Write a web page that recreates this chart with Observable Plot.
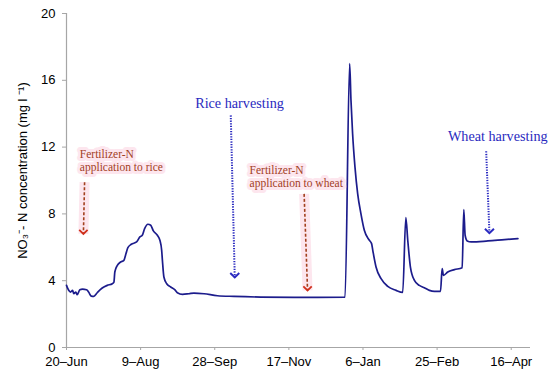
<!DOCTYPE html>
<html>
<head>
<meta charset="utf-8">
<script src="https://cdn.jsdelivr.net/npm/d3@7"></script>
<script src="https://cdn.jsdelivr.net/npm/@observablehq/plot@0.6"></script>
<style>
  html, body { margin: 0; padding: 0; background: #fff; }
</style>
</head>
<body>
<div id="chart"></div>
<script>
// ---- Data ----
const startDate = "2009-06-20";           // first day of the record (20–Jun)
const endDay = 313;                       // x-axis extends to ~29–Apr
// days since 20–Jun
const days = [0, 0.9, 2.7, 4.1, 4.9, 6.3, 7.2, 9.0, 10.8, 13.5, 14.9, 16.7, 18.4, 20.7, 24.1, 27.5, 30.9, 32.0,
  32.6, 34.3, 36.5, 38.7, 40.1, 41.4, 43.7, 47.3, 49.5, 51.1, 52.7, 54.9, 56.8, 58.6, 61.3, 63.0, 64.2, 64.7,
  65.7, 67.6, 70.3, 73.0, 74.8, 78.2, 82.6, 86.0, 92.8, 101.8, 113.0, 131.1, 162.6, 187.9,
  191.0, 191.9, 193.0, 194.6, 196.4, 198.6, 200.9, 204.3, 205.8, 206.6, 208.8, 212.2, 216.7, 222.3, 226.8,
  228.9, 230.2, 232.0, 234.7, 238.0, 241.4, 244.8, 248.2, 252.3,
  253.4, 254.3, 257.2, 261.7, 266.9,
  268.0, 268.9, 270.3, 273.0, 284.3, 295.5, 304.5];
// NO3- - N concentration (mg l-1)
const values = [3.72, 3.52, 3.32, 3.42, 3.22, 3.32, 3.16, 3.46, 3.50, 3.46, 3.32, 3.08, 3.06, 3.28, 3.56, 3.72, 3.82, 3.92,
  4.52, 4.92, 5.12, 5.22, 5.61, 5.98, 6.18, 6.32, 6.62, 6.72, 7.12, 7.38, 7.32, 6.98, 6.72, 6.42, 5.82, 5.22,
  4.22, 3.82, 3.62, 3.46, 3.28, 3.18, 3.22, 3.26, 3.22, 3.10, 3.06, 3.02, 3.00, 3.02,
  17.0, 14.8, 12.8, 10.8, 9.22, 8.02, 7.02, 6.42, 6.22, 5.82, 4.82, 4.12, 3.66, 3.42, 3.30,
  7.78, 6.42, 4.82, 4.02, 3.72, 3.58, 3.42, 3.36, 3.36,
  4.72, 4.32, 4.52, 4.66, 4.78,
  8.26, 6.72, 6.38, 6.32, 6.38, 6.46, 6.52];

const yTicks = [0, 4, 8, 12, 16, 20];
const xTickDates = ["2009-06-20", "2009-08-09", "2009-09-28", "2009-11-17", "2010-01-06", "2010-02-25", "2010-04-16"];
const xTickLabels = ["20–Jun", "9–Aug", "28–Sep", "17–Nov", "6–Jan", "25–Feb", "16–Apr"];
const yLabel = "NO₃⁻- N concentration (mg l ⁻¹)";

// annotations
const noteTexts = ["Fertilizer-N\napplication to rice", "Rice harvesting", "Fertilizer-N\napplication to wheat", "Wheat harvesting"];
const noteDays = [9.0, 116.7, 123.5, 290.9];
const noteValues = [11.2, 14.6, 10.25, 12.65];
const noteKinds = ["fert", "harv", "fert", "harv"];

const arrowDay1 = [12.2, 110.8, 160.3, 283.1];
const arrowVal1 = [9.9, 13.9, 9.2, 11.75];
const arrowDay2 = [11.4, 113.5, 162.6, 285.3];
const arrowVal2 = [6.8, 4.2, 3.42, 6.85];
const arrowKinds = ["fert", "harv", "fert", "harv"];

// ---- Build tables ----
const t0 = new Date(startDate + "T00:00:00Z");
const toDate = d => new Date(t0.getTime() + d * 864e5);
const series = days.map((d, i) => ({date: toDate(d), value: values[i]}));
const tickDates = xTickDates.map(s => new Date(s + "T00:00:00Z"));
const tickLabelMap = new Map(tickDates.map((d, i) => [+d, xTickLabels[i]]));
const notes = noteTexts.map((t, i) => ({text: t, x: toDate(noteDays[i]), y: noteValues[i], kind: noteKinds[i]}));
const arrows = arrowDay1.map((d, i) => ({
  x1: toDate(d), y1: arrowVal1[i], x2: toDate(arrowDay2[i]), y2: arrowVal2[i], kind: arrowKinds[i]
}));
const fertArrows = arrows.filter(a => a.kind === "fert");
const harvArrows = arrows.filter(a => a.kind === "harv");

// open "v" arrow-head symbol, tip at the anchor point
const vHead = {
  draw(context, size) {
    const r = Math.sqrt(size / Math.PI);
    context.moveTo(-r, -r * 0.95);
    context.lineTo(0, 0);
    context.lineTo(r, -r * 0.95);
  }
};

const fertColor = "#a2401e";
const fertHead = "#d0301c";
const harvColor = "#2a2ac0";
const pink = "#fde6ee";
const axisGray = "#a6a6a6";

const chart = Plot.plot({
  width: 550,
  height: 379,
  marginTop: 13,
  marginBottom: 32,
  marginLeft: 66,
  marginRight: 20,
  style: {fontFamily: "'Liberation Sans', Arial, sans-serif", fontSize: "13px", background: "#fff", color: "#000"},
  x: {type: "utc", domain: [t0, toDate(endDay)]},
  y: {domain: [0, 20]},
  marks: [
    // pink glow behind fertilizer arrows
    Plot.link(fertArrows, {x1: "x1", y1: "y1", x2: "x2", y2: "y2", stroke: pink, strokeWidth: 10}),
    Plot.ruleY([0], {stroke: axisGray, strokeWidth: 1.2}),
    Plot.ruleX([t0], {stroke: axisGray, strokeWidth: 1.2}),
    Plot.axisX(tickDates, {tickSize: 3, tickPadding: 6, stroke: axisGray, fill: "#000", label: null,
      tickFormat: d => tickLabelMap.get(+d), fontSize: 13}),
    Plot.axisY(yTicks, {tickSize: 4, tickPadding: 7, stroke: axisGray, fill: "#000", label: null, fontSize: 13}),
    Plot.text([yLabel], {frameAnchor: "left", textAnchor: "middle", rotate: -90, dx: -44, dy: -10,
      text: d => d, fontSize: 13, fill: "#000"}),
    Plot.line(series, {x: "date", y: "value", stroke: "#1c1c8c", strokeWidth: 1.7, curve: "monotone-x"}),
    // arrow shafts (dashed / dotted)
    Plot.link(fertArrows, {x1: "x1", y1: "y1", x2: "x2", y2: "y2",
      stroke: fertColor, strokeWidth: 1.6, strokeDasharray: "3 2"}),
    Plot.link(harvArrows, {x1: "x1", y1: "y1", x2: "x2", y2: "y2",
      stroke: harvColor, strokeWidth: 2, strokeDasharray: "1.3 1.3"}),
    // arrow heads
    Plot.dot(fertArrows, {x: "x2", y: "y2", symbol: vHead, r: 4.2, fill: "none",
      stroke: fertHead, strokeWidth: 1.8}),
    Plot.dot(harvArrows, {x: "x2", y: "y2", symbol: vHead, r: 4.5, fill: "none",
      stroke: harvColor, strokeWidth: 2}),
    // notes
    Plot.text(notes.filter(n => n.kind === "fert"), {x: "x", y: "y", text: "text", textAnchor: "start",
      fill: fertColor, stroke: pink, strokeWidth: 6, fontFamily: "'Liberation Serif', 'Times New Roman', serif",
      fontSize: 11.5, lineHeight: 1.12}),
    Plot.text(notes.filter(n => n.kind === "harv"), {x: "x", y: "y", text: "text", textAnchor: "middle",
      fill: harvColor, fontFamily: "'Liberation Serif', 'Times New Roman', serif", fontSize: 14.2})
  ]
});
document.getElementById("chart").appendChild(chart);
</script>
</body>
</html>
